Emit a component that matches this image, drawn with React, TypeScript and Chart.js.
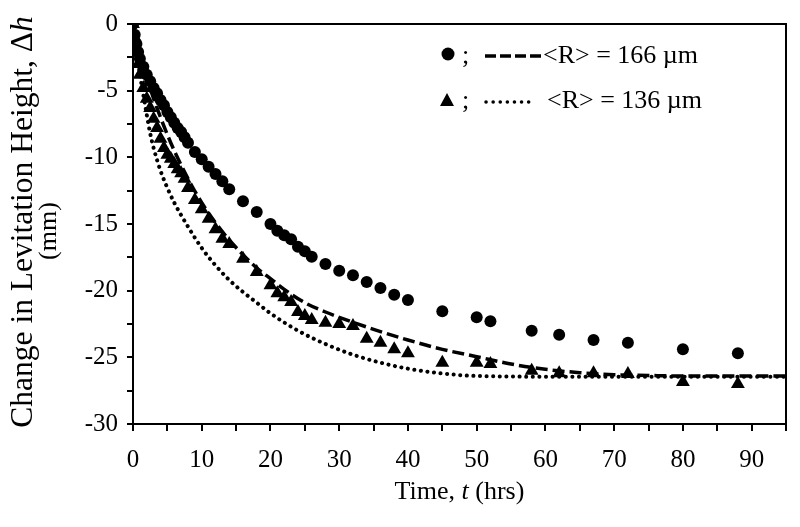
import React, { useEffect, useRef } from "react";
import { Chart, registerables } from "chart.js";

Chart.register(...registerables);

// ---- data ----
const sampleTimes = [0, 0.25, 0.5, 0.75, 1, 1.5, 2, 2.5, 3, 3.5, 4, 4.5, 5, 5.5, 6, 6.5, 7, 7.5, 8, 9, 10, 11, 12, 13, 14, 16, 18, 20, 21, 22, 23, 24, 25, 26, 28, 30, 32, 34, 36, 38, 40, 45, 50, 52, 58, 62, 67, 72, 80, 88];
const circleValues = [0, -0.8, -1.5, -2.1, -2.6, -3.2, -3.8, -4.3, -4.8, -5.2, -5.7, -6.1, -6.6, -7.0, -7.4, -7.8, -8.1, -8.5, -8.9, -9.6, -10.15, -10.7, -11.25, -11.8, -12.4, -13.3, -14.1, -15.0, -15.5, -15.85, -16.15, -16.7, -17.05, -17.45, -18.0, -18.5, -18.85, -19.35, -19.8, -20.3, -20.7, -21.55, -22.0, -22.3, -23.0, -23.3, -23.7, -23.9, -24.4, -24.7];
const triangleValues = [0, -1.0, -2.0, -3.0, -3.8, -4.8, -5.6, -6.3, -7.1, -7.8, -8.6, -9.3, -9.8, -10.1, -10.5, -10.9, -11.2, -11.6, -12.3, -13.2, -13.9, -14.6, -15.4, -16.1, -16.5, -17.6, -18.6, -19.6, -20.2, -20.5, -20.85, -21.6, -21.9, -22.2, -22.4, -22.5, -22.65, -23.6, -23.9, -24.4, -24.7, -25.4, -25.4, -25.5, -26.0, -26.2, -26.2, -26.25, -26.85, -27.0];

const dashedTimes = [0, 1, 2, 3, 4, 5, 6, 8, 10, 12, 14, 16, 18, 20, 22, 25, 28, 30, 35, 40, 45, 50, 55, 60, 65, 70, 75, 80, 95];
const dashedValues = [0, -2.2, -4.0, -5.6, -7.0, -8.3, -9.5, -11.6, -13.4, -14.9, -16.2, -17.3, -18.3, -19.1, -19.9, -20.9, -21.6, -22.0, -22.9, -23.7, -24.4, -24.95, -25.5, -25.9, -26.15, -26.3, -26.36, -26.4, -26.4];

const dottedTimes = [0, 0.5, 1, 1.5, 2, 2.5, 3, 4, 5, 6, 8, 10, 12, 14, 16, 18, 20, 24, 28, 32, 36, 40, 44, 48, 52, 60, 70, 80, 95];
const dottedValues = [0, -2.0, -3.8, -5.3, -6.8, -8.2, -9.3, -11.0, -12.3, -13.4, -15.2, -16.8, -18.1, -19.2, -20.1, -20.9, -21.7, -23.0, -24.0, -24.8, -25.4, -25.85, -26.15, -26.35, -26.42, -26.45, -26.45, -26.45, -26.45];

const legendLabels = ["<R> = 166 \u00b5m", "<R> = 136 \u00b5m"];
const xTitleParts = ["Time, ", "t", " (hrs)"];
const yTitleParts = ["Change in Levitation Height, \u0394", "h"];
const yTitleLine2 = "(mm)";

const FONT = "'Liberation Serif', 'Times New Roman', serif";

const toPoints = (xs: number[], ys: number[]) => xs.map((x, i) => ({ x, y: ys[i] }));

const decorPlugin = {
  id: "decor",
  afterDraw(chart: any) {
    const ctx: CanvasRenderingContext2D = chart.ctx;
    const a = chart.chartArea;
    ctx.save();
    // frame top + right
    ctx.strokeStyle = "#000";
    ctx.lineWidth = 2;
    ctx.beginPath();
    ctx.moveTo(a.left, a.top);
    ctx.lineTo(a.right, a.top);
    ctx.lineTo(a.right, a.bottom);
    ctx.stroke();

    ctx.fillStyle = "#000";
    ctx.textBaseline = "middle";

    // legend
    ctx.font = `26px ${FONT}`;
    ctx.textAlign = "left";
    // row 1
    ctx.beginPath();
    ctx.arc(448, 54, 6.5, 0, Math.PI * 2);
    ctx.fill();
    ctx.fillText(";", 462, 56);
    ctx.lineWidth = 3.5;
    ctx.setLineDash([11, 4]);
    ctx.beginPath();
    ctx.moveTo(485, 56);
    ctx.lineTo(542, 56);
    ctx.stroke();
    ctx.setLineDash([]);
    ctx.fillText(legendLabels[0], 543, 56);
    // row 2
    ctx.beginPath();
    ctx.moveTo(447, 93);
    ctx.lineTo(454, 106);
    ctx.lineTo(440, 106);
    ctx.closePath();
    ctx.fill();
    ctx.fillText(";", 462, 101);
    ctx.lineCap = "round";
    ctx.lineWidth = 3.5;
    ctx.setLineDash([0.1, 7]);
    ctx.beginPath();
    ctx.moveTo(486, 102);
    ctx.lineTo(534, 102);
    ctx.stroke();
    ctx.setLineDash([]);
    ctx.lineCap = "butt";
    ctx.fillText(legendLabels[1], 547, 101);

    // x title
    const tf = `26px ${FONT}`;
    const ti = `italic 26px ${FONT}`;
    ctx.font = tf;
    const w0 = ctx.measureText(xTitleParts[0]).width;
    const w2 = ctx.measureText(xTitleParts[2]).width;
    ctx.font = ti;
    const w1 = ctx.measureText(xTitleParts[1]).width;
    const cx = (a.left + a.right) / 2;
    const sx = cx - (w0 + w1 + w2) / 2;
    const ty = 492;
    ctx.font = tf;
    ctx.fillText(xTitleParts[0], sx, ty);
    ctx.font = ti;
    ctx.fillText(xTitleParts[1], sx + w0, ty);
    ctx.font = tf;
    ctx.fillText(xTitleParts[2], sx + w0 + w1, ty);

    // y title (rotated)
    ctx.textBaseline = "alphabetic";
    const yf = `31.5px ${FONT}`;
    const yi = `italic 31.5px ${FONT}`;
    ctx.save();
    ctx.translate(32, 222);
    ctx.rotate(-Math.PI / 2);
    ctx.font = yf;
    const v0 = ctx.measureText(yTitleParts[0]).width;
    ctx.font = yi;
    const v1 = ctx.measureText(yTitleParts[1]).width;
    const start = -(v0 + v1) / 2;
    ctx.font = yf;
    ctx.fillText(yTitleParts[0], start, 0);
    ctx.font = yi;
    ctx.fillText(yTitleParts[1], start + v0, 0);
    ctx.restore();
    ctx.save();
    ctx.translate(56, 231);
    ctx.rotate(-Math.PI / 2);
    ctx.font = `26px ${FONT}`;
    ctx.textAlign = "center";
    ctx.fillText(yTitleLine2, 0, 0);
    ctx.restore();

    ctx.restore();
  },
};

export default function App() {
  const ref = useRef<HTMLCanvasElement | null>(null);
  useEffect(() => {
    document.body.style.margin = "0";
    const canvas = ref.current;
    if (!canvas) return;
    const chart = new Chart(canvas, {
      type: "scatter",
      data: {
        datasets: [
          {
            label: "166 fit",
            data: toPoints(dashedTimes, dashedValues),
            showLine: true,
            borderColor: "#000",
            borderWidth: 3.5,
            borderDash: [12, 5],
            pointRadius: 0,
            cubicInterpolationMode: "monotone",
            fill: false,
            order: 3,
          } as any,
          {
            label: "136 fit",
            data: toPoints(dottedTimes, dottedValues),
            showLine: true,
            borderColor: "#000",
            borderWidth: 4,
            borderDash: [0.1, 6.5],
            borderCapStyle: "round",
            pointRadius: 0,
            cubicInterpolationMode: "monotone",
            fill: false,
            order: 4,
          } as any,
          {
            label: "166",
            data: toPoints(sampleTimes, circleValues),
            pointStyle: "circle",
            pointRadius: 6,
            backgroundColor: "#000",
            borderColor: "#000",
            borderWidth: 0,
            order: 1,
          },
          {
            label: "136",
            data: toPoints(sampleTimes, triangleValues),
            pointStyle: "triangle",
            pointRadius: 8,
            backgroundColor: "#000",
            borderColor: "#000",
            borderWidth: 0,
            order: 2,
          },
        ],
      },
      options: {
        responsive: false,
        animation: false,
        layout: { padding: { left: 0, top: 20, right: 13, bottom: 0 } },
        plugins: { legend: { display: false }, tooltip: { enabled: false } },
        scales: {
          x: {
            type: "linear",
            min: 0,
            max: 95,
            afterFit: (s: any) => {
              s.height = 103;
            },
            border: { display: true, color: "#000", width: 2 },
            grid: { drawOnChartArea: false, drawTicks: true, tickLength: 7, color: "#000", lineWidth: 2 },
            ticks: {
              stepSize: 5,
              autoSkip: false,
              maxRotation: 0,
              color: "#000",
              padding: 14,
              font: { family: FONT, size: 25 },
              callback: (v: any) => (Number(v) % 10 === 0 ? String(v) : ""),
            },
          },
          y: {
            type: "linear",
            min: -30,
            max: 0,
            afterFit: (s: any) => {
              s.width = 133;
            },
            border: { display: true, color: "#000", width: 2 },
            grid: { drawOnChartArea: false, drawTicks: true, tickLength: 6, color: "#000", lineWidth: 2 },
            ticks: {
              stepSize: 2.5,
              autoSkip: false,
              color: "#000",
              padding: 9,
              font: { family: FONT, size: 25 },
              callback: (v: any) => (Number(v) % 5 === 0 ? String(v) : ""),
            },
          },
        },
      },
      plugins: [decorPlugin],
    });
    return () => chart.destroy();
  }, []);
  return (
    <div style={{ width: 800, height: 527, background: "#fff" }}>
      <canvas ref={ref} width={800} height={527} />
    </div>
  );
}
